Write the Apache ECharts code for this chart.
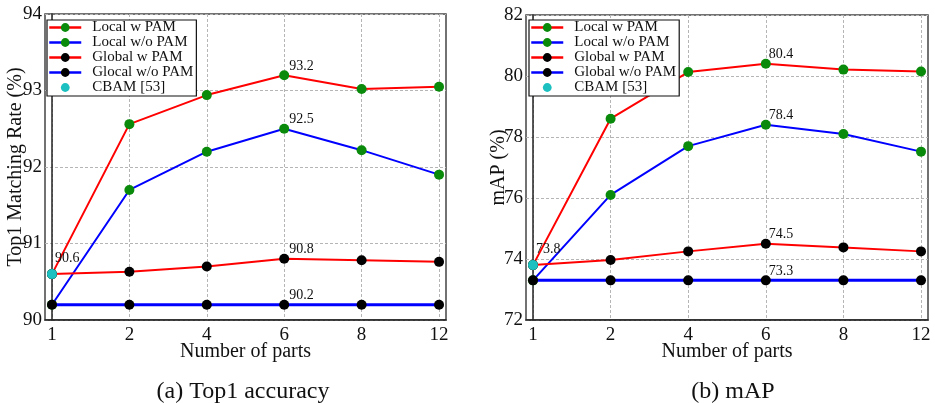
<!DOCTYPE html>
<html>
<head>
<meta charset="utf-8">
<script src="https://cdn.jsdelivr.net/npm/echarts@6/dist/echarts.min.js"></script>
<style>
html,body{margin:0;padding:0;background:#fff;}
#c{width:935px;height:403px;}
</style>
</head>
<body>
<div id="c"></div>
<script>
// ---------- data ----------
var parts = ['1', '2', '4', '6', '8', '12'];
var seriesNames = ['Local w PAM', 'Local w/o PAM', 'Global w PAM', 'Glocal w/o PAM', 'CBAM [53]'];
var seriesNamesB = ['Local w PAM', 'Local w/o PAM', 'Global w PAM', 'Global w/o PAM', 'CBAM [53]'];

// (a) Top1 accuracy
var top1LocalW   = [90.6, 92.56, 92.94, 93.2, 93.02, 93.05];
var top1LocalWo  = [90.2, 91.70, 92.20, 92.5, 92.22, 91.90];
var top1GlobalW  = [90.6, 90.63, 90.70, 90.8, 90.78, 90.76];
var top1GlobalWo = [90.2, 90.2, 90.2, 90.2, 90.2, 90.2];
var top1Cbam     = [90.6];

// (b) mAP
var mapLocalW   = [73.8, 78.6, 80.13, 80.4, 80.21, 80.15];
var mapLocalWo  = [73.3, 76.1, 77.7, 78.4, 78.1, 77.52];
var mapGlobalW  = [73.8, 73.97, 74.25, 74.5, 74.38, 74.25];
var mapGlobalWo = [73.3, 73.3, 73.3, 73.3, 73.3, 73.3];
var mapCbam     = [73.8];

// which points carry a value annotation (index into parts)
var annotA = [[3], [3], [3], [3], [0]];
var annotB = [[3], [3], [3], [3], [0]];

var captions = ['(a) Top1 accuracy', '(b) mAP'];
var yNames = ['Top1 Matching Rate (%)', 'mAP (%)'];
var xName = 'Number of parts';

// ---------- styling ----------
var FONT = 'Liberation Serif';
var RED = '#ff0000', BLUE = '#0000ff', GREEN = '#0a8a0a', BLACK = '#000000', CYAN = '#1cc0c0';
var lineColors = [RED, BLUE, RED, BLUE, 'rgba(0,0,0,0)'];
var markColors = [GREEN, GREEN, BLACK, BLACK, CYAN];
var lineWidths = [2, 2, 2, 3, 0];

function buildSeries(values, annot, gridIdx, names, lblDx) {
  var out = [];
  values.forEach(function (arr, s) {
    var data = arr.map(function (v, i) {
      var item = { value: [i, v] };
      if (annot[s].indexOf(i) >= 0) {
        var first = (i === 0);
        item.label = {
          show: true,
          formatter: v.toFixed(1),
          position: first ? [8, -11] : [lblDx, -4],
          align: 'left',
          verticalAlign: 'middle',
          fontFamily: FONT,
          fontSize: 14,
          color: '#111'
        };
      }
      return item;
    });
    out.push({
      type: 'line',
      name: names[s],
      xAxisIndex: gridIdx,
      yAxisIndex: gridIdx,
      data: data,
      symbol: 'circle',
      symbolSize: 10,
      showSymbol: true,
      animation: false,
      itemStyle: { color: markColors[s] },
      lineStyle: { color: lineColors[s], width: lineWidths[s] },
      emphasis: { disabled: true },
      z: 2 + s
    });
  });
  return out;
}

var series = buildSeries([top1LocalW, top1LocalWo, top1GlobalW, top1GlobalWo, top1Cbam], annotA, 0, seriesNames, 10)
  .concat(buildSeries([mapLocalW, mapLocalWo, mapGlobalW, mapGlobalWo, mapCbam], annotB, 1, seriesNamesB, 8));

var idx = parts.map(function (p, i) { return i; });

function xAxis(gi) {
  return {
    type: 'value', gridIndex: gi, min: -0.09, max: 5.09,
    name: xName, nameLocation: 'middle', nameGap: 22, nameMoveOverlap: false,
    nameTextStyle: { fontFamily: FONT, fontSize: 20, color: '#111' },
    axisLine: { show: true, onZero: false, lineStyle: { color: '#222', width: 1.5 } },
    axisTick: { show: false, customValues: idx },
    axisLabel: { customValues: idx, formatter: function (v) { return parts[Math.round(v)]; },
      fontFamily: FONT, fontSize: 19, color: '#111', margin: 6 },
    splitLine: { show: true, lineStyle: { color: '#b5b5b5', type: [3, 2], width: 1 } }
  };
}
function yAxis(gi, min, max, interval, gap) {
  return {
    type: 'value', gridIndex: gi, min: min, max: max, interval: interval,
    name: yNames[gi], nameLocation: 'middle', nameGap: gap, nameMoveOverlap: false,
    nameTextStyle: { fontFamily: FONT, fontSize: 20, color: '#111' },
    axisLine: { show: true, lineStyle: { color: '#222', width: 1.5 } },
    axisTick: { show: false },
    axisLabel: { fontFamily: FONT, fontSize: 19, color: '#111', margin: 3 },
    splitLine: { show: true, lineStyle: { color: '#b5b5b5', type: [3, 2], width: 1 } }
  };
}
function legend(gi, left, names) {
  return {
    orient: 'vertical', left: left, top: 20,
    data: names,
    itemWidth: 32, itemHeight: 11, itemGap: 0,
    padding: [0, 3, 1, 1],
    backgroundColor: '#fff',
    borderColor: '#111', borderWidth: 1.2, borderRadius: 0,
    selectedMode: false,
    lineStyle: { width: 2.5 },
    textStyle: { fontFamily: FONT, fontSize: 15, color: '#111', lineHeight: 14.6, padding: [0, 0, 0, 6] },
    z: 20
  };
}

var chart = echarts.init(document.getElementById('c'), null, { renderer: 'canvas' });
chart.setOption({
  animation: false,
  backgroundColor: '#fff',
  grid: [
    { left: 45, top: 14, width: 401, height: 306, show: true, borderColor: '#444', borderWidth: 1.5, backgroundColor: 'transparent' },
    { left: 526, top: 15, width: 402, height: 305, show: true, borderColor: '#444', borderWidth: 1.5, backgroundColor: 'transparent' }
  ],
  xAxis: [xAxis(0), xAxis(1)],
  yAxis: [yAxis(0, 90, 94, 1, 19), yAxis(1, 72, 82, 2, 17)],
  legend: [legend(0, 47, seriesNames), legend(1, 529, seriesNamesB)],
  title: [
    { text: captions[0], left: 238, top: 375, textAlign: 'center',
      textStyle: { fontFamily: FONT, fontSize: 24, fontWeight: 'normal', color: '#111' } },
    { text: captions[1], left: 728, top: 375, textAlign: 'center',
      textStyle: { fontFamily: FONT, fontSize: 24, fontWeight: 'normal', color: '#111' } }
  ],
  series: series
});
</script>
</body>
</html>
